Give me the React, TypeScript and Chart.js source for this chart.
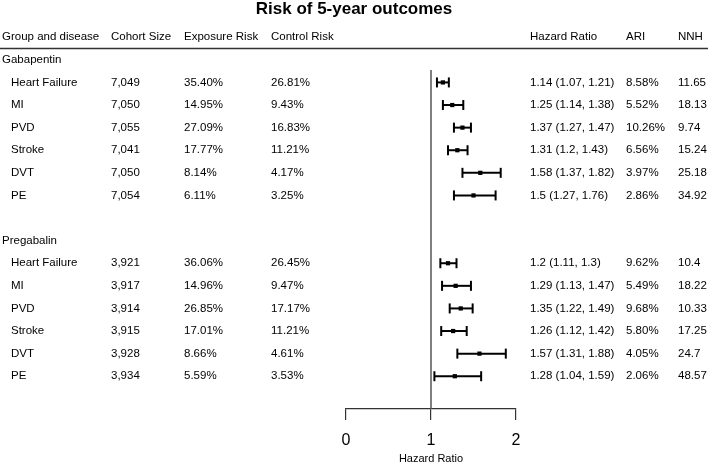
import React, { useEffect, useRef } from "react";
import { Chart, registerables } from "chart.js";
Chart.register(...registerables);

const titleText = "Risk of 5-year outcomes";
const headers = ["Group and disease", "Cohort Size", "Exposure Risk", "Control Risk", "Hazard Ratio", "ARI", "NNH"];
const groups = ["Gabapentin", "Pregabalin"];
const diseases = ["Heart Failure", "MI", "PVD", "Stroke", "DVT", "PE"];

const gabCohort = ["7,049", "7,050", "7,055", "7,041", "7,050", "7,054"];
const gabExposure = ["35.40%", "14.95%", "27.09%", "17.77%", "8.14%", "6.11%"];
const gabControl = ["26.81%", "9.43%", "16.83%", "11.21%", "4.17%", "3.25%"];
const gabHR = [1.14, 1.25, 1.37, 1.31, 1.58, 1.5];
const gabLower = [1.07, 1.14, 1.27, 1.2, 1.37, 1.27];
const gabUpper = [1.21, 1.38, 1.47, 1.43, 1.82, 1.76];
const gabARI = ["8.58%", "5.52%", "10.26%", "6.56%", "3.97%", "2.86%"];
const gabNNH = ["11.65", "18.13", "9.74", "15.24", "25.18", "34.92"];

const pregCohort = ["3,921", "3,917", "3,914", "3,915", "3,928", "3,934"];
const pregExposure = ["36.06%", "14.96%", "26.85%", "17.01%", "8.66%", "5.59%"];
const pregControl = ["26.45%", "9.47%", "17.17%", "11.21%", "4.61%", "3.53%"];
const pregHR = [1.2, 1.29, 1.35, 1.26, 1.57, 1.28];
const pregLower = [1.11, 1.13, 1.22, 1.12, 1.31, 1.04];
const pregUpper = [1.3, 1.47, 1.49, 1.42, 1.88, 1.59];
const pregARI = ["9.62%", "5.49%", "9.68%", "5.80%", "4.05%", "2.06%"];
const pregNNH = ["10.4", "18.22", "10.33", "17.25", "24.7", "48.57"];

const xTicks = [0, 1, 2];
const refValue = 1;
const axisTitle = "Hazard Ratio";

const FONT = '"Liberation Sans", Arial, Helvetica, sans-serif';
const COL_X = [2, 111, 184, 271, 530, 626, 678];
const INDENT_X = 11;

type Row = {
  row: number;
  cells: string[];
  indent: boolean;
  hr?: number;
  lo?: number;
  hi?: number;
};

function buildRows(): Row[] {
  const rows: Row[] = [];
  const sets = [
    { cohort: gabCohort, exp: gabExposure, ctl: gabControl, hr: gabHR, lo: gabLower, hi: gabUpper, ari: gabARI, nnh: gabNNH },
    { cohort: pregCohort, exp: pregExposure, ctl: pregControl, hr: pregHR, lo: pregLower, hi: pregUpper, ari: pregARI, nnh: pregNNH },
  ];
  let r = 0;
  sets.forEach((s, gi) => {
    rows.push({ row: r, cells: [groups[gi]], indent: false });
    r++;
    diseases.forEach((d, i) => {
      rows.push({
        row: r,
        indent: true,
        cells: [d, s.cohort[i], s.exp[i], s.ctl[i], `${s.hr[i]} (${s.lo[i]}, ${s.hi[i]})`, s.ari[i], s.nnh[i]],
        hr: s.hr[i],
        lo: s.lo[i],
        hi: s.hi[i],
      });
      r++;
    });
    r++;
  });
  return rows;
}

export default function App() {
  const ref = useRef<HTMLCanvasElement | null>(null);

  useEffect(() => {
    if (!ref.current) return;
    const rows = buildRows();
    const dataRows = rows.filter((r) => r.hr !== undefined);
    const yMin = 0.45;
    const yMax = 15.45;

    const tablePlugin = {
      id: "tableText",
      afterDraw(chart: any) {
        const ctx = chart.ctx as CanvasRenderingContext2D;
        const ys = chart.scales.y;
        ctx.save();
        // title
        ctx.font = `bold 17px ${FONT}`;
        ctx.fillStyle = "#000";
        ctx.textAlign = "center";
        ctx.textBaseline = "alphabetic";
        ctx.fillText(titleText, chart.width / 2, 14);

        ctx.font = `11.5px ${FONT}`;
        ctx.textBaseline = "middle";
        ctx.textAlign = "left";
        const hy = ys.getPixelForValue(-1);
        headers.forEach((h, i) => ctx.fillText(h, COL_X[i], hy));
        const ly = ys.getPixelForValue(-0.5);
        ctx.strokeStyle = "#333";
        ctx.lineWidth = 1.5;
        ctx.beginPath();
        ctx.moveTo(0, ly);
        ctx.lineTo(chart.width, ly);
        ctx.stroke();
        rows.forEach((r) => {
          const y = ys.getPixelForValue(r.row);
          r.cells.forEach((c, i) => {
            const x = i === 0 ? (r.indent ? INDENT_X : COL_X[0]) : COL_X[i];
            ctx.fillText(c, x, y);
          });
        });
        ctx.restore();
      },
    };

    const ciSets = dataRows.map((r) => ({
      type: "scatter" as const,
      showLine: true,
      data: [
        { x: r.lo as number, y: r.row },
        { x: r.hi as number, y: r.row },
      ],
      borderColor: "#000",
      borderWidth: 2,
      pointStyle: "line" as const,
      rotation: 90,
      pointRadius: 5,
      pointBorderWidth: 2,
      pointBorderColor: "#000",
      pointBackgroundColor: "#000",
    }));

    const chart = new Chart(ref.current, {
      type: "scatter",
      data: {
        datasets: [
          {
            showLine: true,
            data: [
              { x: refValue, y: yMin },
              { x: refValue, y: yMax },
            ],
            borderColor: "#555",
            borderWidth: 1.5,
            pointRadius: 0,
          } as any,
          ...ciSets,
          {
            data: dataRows.map((r) => ({ x: r.hr as number, y: r.row })),
            pointStyle: "rect",
            pointRadius: 3,
            backgroundColor: "#000",
            borderWidth: 0,
          } as any,
        ],
      },
      options: {
        animation: false,
        responsive: false,
        events: [],
        layout: { padding: { left: 346, right: 192, top: 70, bottom: 0 } },
        plugins: {
          legend: { display: false },
          tooltip: { enabled: false },
          title: { display: false },
        },
        scales: {
          x: {
            type: "linear",
            min: 0,
            max: 2,
            afterBuildTicks: (scale: any) => {
              scale.ticks = xTicks.map((v) => ({ value: v }));
            },
            afterFit: (scale: any) => {
              scale.height = 55;
            },
            ticks: {
              color: "#000",
              font: { family: FONT, size: 16 },
              padding: 11.4,
              maxRotation: 0,
            },
            grid: {
              display: true,
              drawOnChartArea: false,
              drawTicks: true,
              tickLength: 11,
              color: "#333",
              lineWidth: 1.2,
            },
            border: { display: true, color: "#333", width: 1.2 },
            title: {
              display: true,
              text: axisTitle,
              color: "#000",
              font: { family: FONT, size: 11, lineHeight: 1 },
              padding: { top: 0, bottom: 0 },
            },
          },
          y: {
            type: "linear",
            display: false,
            reverse: true,
            min: yMin,
            max: yMax,
          },
        },
      },
      plugins: [tablePlugin],
    } as any);
    return () => chart.destroy();
  }, []);

  return (
    <div style={{ position: "absolute", left: 0, top: 0, width: 708, height: 464, background: "#fff" }}>
      <canvas ref={ref} width={708} height={464} />
    </div>
  );
}
